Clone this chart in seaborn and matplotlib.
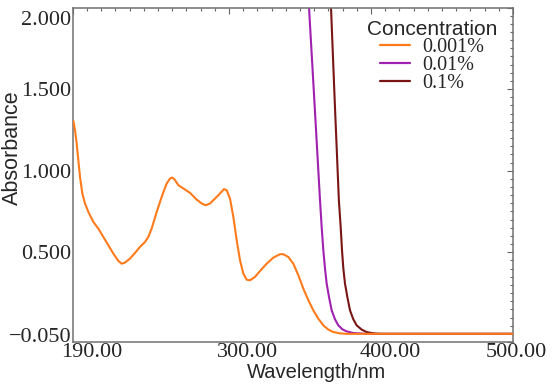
import matplotlib
matplotlib.use("Agg")
import matplotlib.pyplot as plt
import matplotlib.transforms as mtransforms
from matplotlib.ticker import MultipleLocator, FixedLocator
import seaborn as sns
import pandas as pd

# ---- data ----
wl_001 = [190.44, 191.62, 192.80, 193.96, 195.14, 196.78, 198.66, 201.01, 204.53, 208.05,
          211.57, 215.09, 218.61, 222.13, 224.48, 226.82, 230.34, 233.86, 237.38, 240.90,
          243.25, 245.60, 249.12, 252.64, 256.16, 258.51, 260.15, 262.03, 264.37, 267.89,
          272.59, 277.28, 280.80, 283.62, 286.67, 290.19, 293.71, 296.53, 298.41, 300.75,
          303.10, 305.45, 307.79, 310.14, 312.49, 314.83, 318.35, 321.87, 326.57, 331.26,
          335.95, 338.30, 341.82, 345.34, 348.86, 352.38, 355.90, 359.42, 362.94, 366.46,
          369.98, 373.50, 378.20, 382.90, 400.0, 450.0, 500.0]
abs_001 = [1.306, 1.248, 1.167, 1.064, 0.962, 0.860, 0.799, 0.747, 0.686, 0.645,
           0.594, 0.543, 0.492, 0.447, 0.430, 0.437, 0.461, 0.496, 0.533, 0.563,
           0.594, 0.645, 0.747, 0.839, 0.921, 0.952, 0.958, 0.942, 0.911, 0.891,
           0.864, 0.823, 0.799, 0.788, 0.799, 0.829, 0.860, 0.887, 0.880, 0.829,
           0.717, 0.574, 0.451, 0.369, 0.332, 0.328, 0.349, 0.385, 0.430, 0.467,
           0.488, 0.488, 0.471, 0.430, 0.359, 0.277, 0.206, 0.144, 0.093, 0.052,
           0.026, 0.011, 0.003, 0.0, 0.0, 0.0, 0.0]

wl_01 = [355.75, 356.37, 360.12, 364.12, 365.29, 366.46, 367.64, 368.81, 370.45, 372.33,
         374.68, 377.02, 379.84, 382.89, 387.58, 394.63, 400.0, 450.0, 500.0]
abs_01 = [2.1, 2.001, 1.433, 0.819, 0.655, 0.512, 0.400, 0.308, 0.226, 0.144,
          0.089, 0.052, 0.028, 0.015, 0.005, 0.001, 0.0, 0.0, 0.0]

wl_1 = [371.40, 371.86, 374.45, 377.40, 378.67, 379.61, 380.55, 381.72, 383.36, 385.24,
        387.58, 389.93, 393.45, 396.97, 401.67, 406.36, 450.0, 500.0]
abs_1 = [2.1, 2.001, 1.433, 0.819, 0.655, 0.512, 0.400, 0.308, 0.226, 0.144,
         0.089, 0.052, 0.026, 0.011, 0.003, 0.0, 0.0, 0.0]

series_names = ["0.001%", "0.01%", "0.1%"]
colors = {"0.001%": "#FF7A1A", "0.01%": "#A020B0", "0.1%": "#7A1515"}

x_ticks = [190, 300, 400, 500]
x_ticklabels = ["190.00", "300.00", "400.00", "500.00"]
y_ticks = [-0.05, 0.5, 1.0, 1.5, 2.0]
y_ticklabels = ["\u22120.050", "0.500", "1.000", "1.500", "2.000"]

df = pd.concat([
    pd.DataFrame({"Wavelength": wl_001, "Absorbance": abs_001, "Concentration": "0.001%"}),
    pd.DataFrame({"Wavelength": wl_01, "Absorbance": abs_01, "Concentration": "0.01%"}),
    pd.DataFrame({"Wavelength": wl_1, "Absorbance": abs_1, "Concentration": "0.1%"}),
], ignore_index=True)

sns.set_style("white")
plt.rcParams["font.family"] = ["Liberation Sans", "DejaVu Sans"]

fig = plt.figure(figsize=(5.54, 3.86), dpi=100)
ax = fig.add_axes([72.7 / 554, 44 / 386, 440.3 / 554, 334.5 / 386])

sns.lineplot(data=df, x="Wavelength", y="Absorbance", hue="Concentration",
             hue_order=series_names, palette=colors, sort=False,
             estimator=None, linewidth=1.5, ax=ax)

# orange on top at the baseline
for line in ax.get_lines():
    if line.get_color().lower() == colors["0.001%"].lower():
        line.set_zorder(4)
    line.set_solid_joinstyle("round")

ax.set_xlim(190, 500)
ax.set_ylim(-0.05, 2.0)

serif = ["Liberation Serif", "DejaVu Serif"]
ax.xaxis.set_major_locator(FixedLocator(x_ticks))
ax.xaxis.set_minor_locator(MultipleLocator(10))
ax.yaxis.set_major_locator(FixedLocator(y_ticks))
ax.yaxis.set_minor_locator(MultipleLocator(0.05))
ax.set_xticklabels(x_ticklabels, fontfamily=serif, fontsize=16)
ax.set_yticklabels(y_ticklabels, fontfamily=serif, fontsize=16)

ax.tick_params(which="both", direction="in", top=True, right=True,
               color="#666666", width=0.8)
ax.tick_params(which="major", length=4)
ax.tick_params(which="minor", length=2)
ax.tick_params(axis="x", pad=1)
ax.tick_params(axis="y", pad=1)

for sp in ax.spines.values():
    sp.set_color("#707070")
    sp.set_linewidth(1.1)

ax.set_xlabel("Wavelength/nm", fontsize=14.5)
ax.set_ylabel("Absorbance", fontsize=15.5)
ax.xaxis.set_label_coords(0.553, -0.062)
ax.yaxis.set_label_coords(-0.112, 0.58)

# shift tick labels like the reference
def shift(label, dx_px, dy_px):
    off = mtransforms.ScaledTranslation(dx_px / 100, dy_px / 100, fig.dpi_scale_trans)
    label.set_transform(label.get_transform() + off)

xl = ax.xaxis.get_majorticklabels()
for lab, dx in zip(xl, [19, 19, 19, 3]):
    shift(lab, dx, 0)
yl = ax.yaxis.get_majorticklabels()
for lab, dy in zip(yl, [7, 0, 0, 0, -10.5]):
    shift(lab, 0, dy)

handles, labels = ax.get_legend_handles_labels()
leg = ax.legend(handles, labels, title="Concentration", loc="upper left",
                bbox_to_anchor=(0.668, 0.963), frameon=False,
                prop={"family": serif, "size": 14.5}, title_fontsize=15,
                handlelength=1.5, handletextpad=0.6, labelspacing=-0.05,
                borderpad=0, borderaxespad=0)
for h in leg.get_lines():
    h.set_linewidth(1.6)

fig.savefig("out.png", dpi=100)
